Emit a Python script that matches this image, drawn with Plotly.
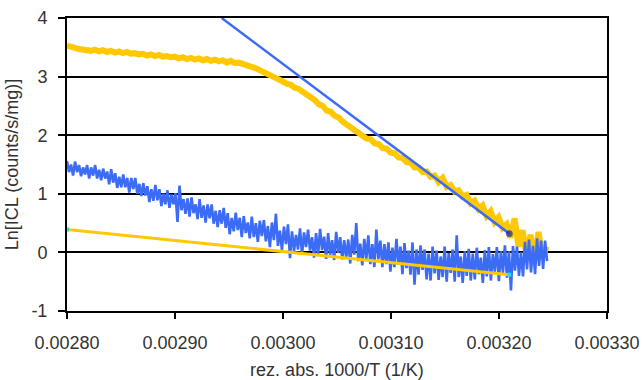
import numpy as np
import plotly.graph_objects as go

# ---- data ----
# yellow measured series (sampled on an even 1/T grid)
yellow_x_start, yellow_x_step = 0.00280, 0.0000037
yellow_y = [
    3.53, 3.50, 3.49, 3.47, 3.46, 3.47, 3.44, 3.46, 3.43, 3.45,
    3.42, 3.44, 3.41, 3.43, 3.40, 3.42, 3.39, 3.40, 3.38, 3.39,
    3.36, 3.38, 3.35, 3.37, 3.34, 3.35, 3.33, 3.34, 3.31, 3.33,
    3.30, 3.32, 3.29, 3.31, 3.28, 3.30, 3.27, 3.29, 3.26, 3.28,
    3.24, 3.27, 3.23, 3.24, 3.21, 3.20, 3.17, 3.15, 3.12, 3.09,
    3.05, 3.01, 2.98, 2.95, 2.92, 2.88, 2.86, 2.81, 2.79, 2.74,
    2.70, 2.64, 2.60, 2.53, 2.50, 2.42, 2.40, 2.33, 2.30, 2.23,
    2.18, 2.12, 2.09, 2.03, 2.00, 1.94, 1.93, 1.86, 1.85, 1.78,
    1.77, 1.70, 1.69, 1.62, 1.61, 1.54, 1.53, 1.45, 1.45, 1.37,
    1.38, 1.29, 1.31, 1.20, 1.27, 1.12, 1.15, 1.04, 1.06, 0.95,
    0.98, 0.84, 0.88, 0.74, 0.80, 0.62, 0.70, 0.52, 0.60, 0.42,
    0.48, 0.25, 0.58, 0.10, 0.38, -0.05, 0.30, -0.15, 0.35, -0.10,
    0.10,
]

# blue measured series
blue_x_start, blue_x_step = 0.00280, 0.00000186
blue_y = [
    1.56, 1.37, 1.50, 1.31, 1.55, 1.37, 1.49, 1.30, 1.45, 1.33,
    1.49, 1.26, 1.45, 1.31, 1.49, 1.26, 1.41, 1.23, 1.43, 1.26,
    1.38, 1.16, 1.42, 1.19, 1.35, 1.10, 1.29, 1.11, 1.33, 1.11,
    1.27, 1.02, 1.27, 1.08, 1.27, 1.00, 1.17, 0.96, 1.18, 0.97,
    1.13, 0.86, 1.08, 0.88, 1.15, 0.89, 1.08, 0.79, 1.00, 0.82,
    1.06, 0.76, 0.99, 0.82, 1.01, 0.52, 1.14, 0.72, 0.91, 0.66,
    0.92, 0.61, 0.94, 0.67, 0.82, 0.57, 0.91, 0.59, 0.80, 0.51,
    0.82, 0.58, 0.82, 0.49, 0.71, 0.43, 0.72, 0.49, 0.76, 0.42,
    0.67, 0.31, 0.59, 0.36, 0.68, 0.38, 0.59, 0.26, 0.62, 0.33,
    0.51, 0.24, 0.61, 0.26, 0.50, 0.18, 0.54, 0.28, 0.55, 0.19,
    0.45, 0.09, 0.51, 0.21, 0.66, 0.11, 0.37, 0.04, 0.44, 0.14,
    0.48, -0.10, 0.36, 0.02, 0.30, 0.05, 0.41, -0.04, 0.34, 0.09,
    0.39, 0.03, 0.26, -0.09, 0.33, -0.05, 0.40, 0.04, 0.27, -0.11,
    0.33, -0.04, 0.21, -0.13, 0.35, -0.01, 0.26, -0.12, 0.21, -0.10,
    0.22, -0.19, 0.30, -0.04, 0.50, -0.15, 0.15, -0.22, 0.23, -0.11,
    0.29, -0.20, 0.14, -0.25, 0.39, -0.12, 0.20, -0.25, 0.14, -0.20,
    0.17, -0.33, 0.08, -0.25, 0.23, -0.21, 0.10, -0.37, 0.16, -0.27,
    0.03, -0.38, 0.17, -0.55, 0.05, -0.38, 0.12, -0.30, 0.05, -0.46,
    -0.02, -0.48, 0.10, -0.36, 0.03, -0.47, -0.07, -0.42, 0.10, -0.50,
    -0.01, -0.35, 0.05, -0.50, 0.29, -0.42, -0.07, -0.52, 0.02, -0.40,
    0.06, -0.48, -0.02, -0.46, 0.08, -0.37, -0.09, -0.52, 0.04, -0.41,
    0.09, -0.48, -0.03, -0.33, 0.09, -0.49, 0.02, -0.35, 0.12, -0.43,
    0.02, -0.65, 0.11, -0.31, 0.10, -0.40, 0.00, -0.41, 0.18, -0.29,
    0.22, -0.34, 0.11, -0.37, 0.24, -0.23, 0.20, -0.28, 0.20, -0.15,
]

# fitted straight lines (endpoints)
blue_fit_x = [0.0029432, 0.0032096]
blue_fit_y = [4.0, 0.32]
yellow_fit_x = [0.00280, 0.0032096]
yellow_fit_y = [0.39, -0.38]

x_ticks = [0.00280, 0.00290, 0.00300, 0.00310, 0.00320, 0.00330]
y_ticks = [-1, 0, 1, 2, 3, 4]
y_tick_labels = ["-1", "0", "1", "2", "3", "4"]

YELLOW = "#FFC800"
BLUE = "#3C6CF6"

yellow_x = yellow_x_start + yellow_x_step * np.arange(len(yellow_y))
blue_x = blue_x_start + blue_x_step * np.arange(len(blue_y))

fig = go.Figure()
fig.add_trace(go.Scatter(x=yellow_x, y=yellow_y, mode="lines",
                         line=dict(color=YELLOW, width=6), showlegend=False))
fig.add_trace(go.Scatter(x=blue_x, y=blue_y, mode="lines",
                         line=dict(color=BLUE, width=2.6), showlegend=False))
fig.add_trace(go.Scatter(x=blue_fit_x, y=blue_fit_y, mode="lines+markers",
                         line=dict(color=BLUE, width=2.5),
                         marker=dict(size=[0, 6], color="#1B2A8C",
                                     line=dict(color="#1B2A8C", width=1)),
                         showlegend=False))
fig.add_trace(go.Scatter(x=yellow_fit_x, y=yellow_fit_y, mode="lines+markers",
                         line=dict(color=YELLOW, width=3),
                         marker=dict(size=4, color="#19E0F0", symbol="square"),
                         showlegend=False))

font_family = "Liberation Sans, Arial, Helvetica, sans-serif"
fig.update_layout(
    width=643, height=380,
    margin=dict(l=67, r=36, t=18, b=69),
    paper_bgcolor="white", plot_bgcolor="white",
    font=dict(family=font_family, size=18, color="#333333"),
)
fig.update_xaxes(
    range=[0.00280, 0.00330], tickvals=x_ticks, tickformat=".5f",
    showline=True, linecolor="black", linewidth=2, mirror=True,
    ticks="outside", ticklen=6, tickwidth=2, tickcolor="black",
    ticklabelstandoff=8, automargin=False,
    showgrid=False, zeroline=False,
    title=dict(text="rez. abs. 1000/T (1/K)", standoff=18,
               font=dict(size=18, color="#333333")),
)
fig.update_yaxes(
    range=[-1, 4], tickvals=y_ticks, ticktext=y_tick_labels,
    showline=True, linecolor="black", linewidth=2, mirror=True,
    ticks="outside", ticklen=7, tickwidth=2, tickcolor="black",
    ticklabelstandoff=7, automargin=False,
    showgrid=True, gridcolor="black", gridwidth=1.5, zeroline=False,
    title=dict(text="Ln[ICL (counts/s/mg)]", standoff=8,
               font=dict(size=18, color="#333333")),
)

fig.write_html("out.html")
